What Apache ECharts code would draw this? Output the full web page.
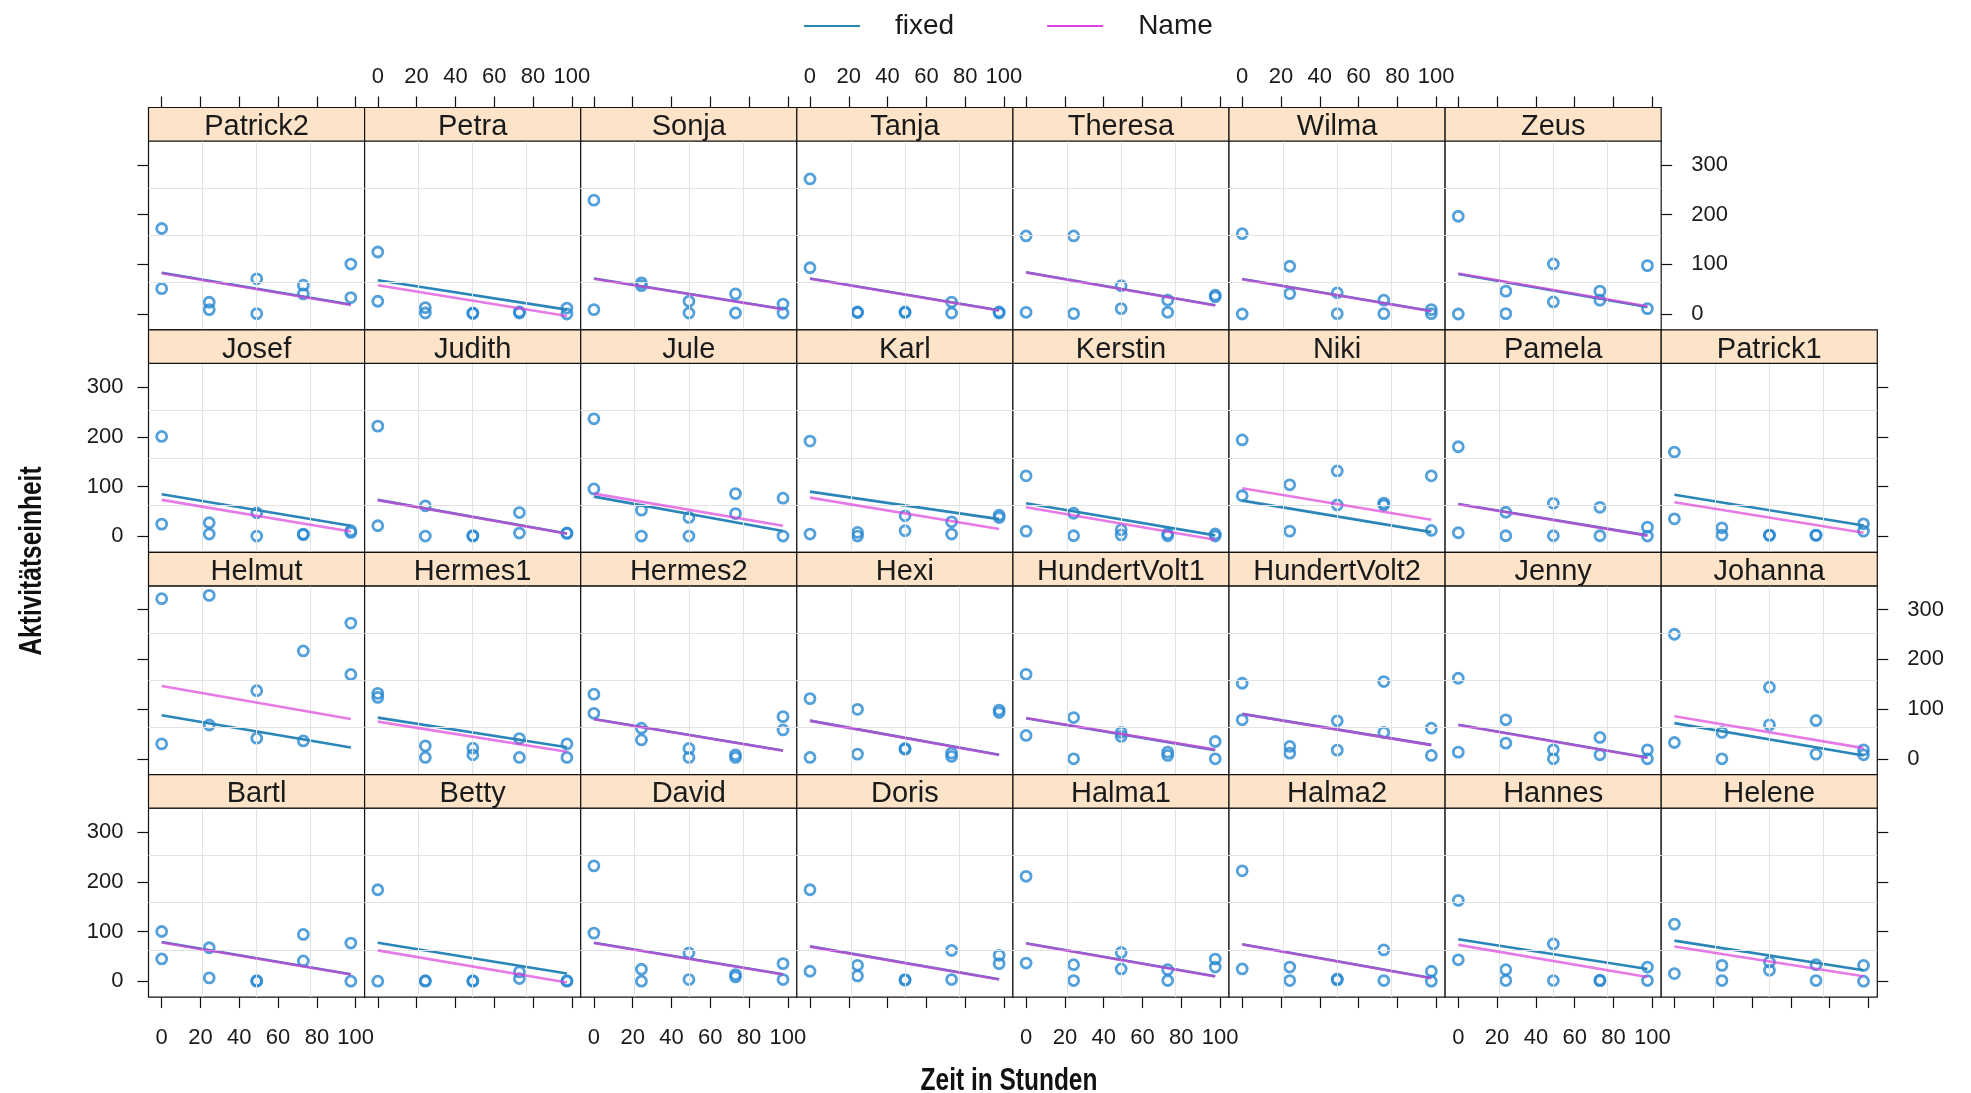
<!DOCTYPE html>
<html><head><meta charset="utf-8">
<script src="https://cdn.jsdelivr.net/npm/echarts@6/dist/echarts.min.js"></script>
<style>html,body{margin:0;padding:0;background:#fff}#c{width:1971px;height:1093px}</style>
</head><body><div id="c"></div>
<script>
// ---- data ----
const panelNames = ['Bartl','Betty','David','Doris','Halma1','Halma2','Hannes','Helene',
  'Helmut','Hermes1','Hermes2','Hexi','HundertVolt1','HundertVolt2','Jenny','Johanna',
  'Josef','Judith','Jule','Karl','Kerstin','Niki','Pamela','Patrick1',
  'Patrick2','Petra','Sonja','Tanja','Theresa','Wilma','Zeus'];
const pointTimes = [0, 24.5, 49, 73, 97.5];
const lineTimes = [0, 97.5];
const obsHigh = [
  [100,67.3,0,94,76.7],[184,0,0,18.7,0],[232,24,56.7,13.3,35.3],[184,32,3.3,62,52],
  [211,33.2,57.7,23.2,44.5],[222,28.5,4.6,63,20],[162.6,23.2,75,2,28.5],[114.8,31.8,38.5,33.2,31.8],
  [322,328.7,137,217,273],[131.6,26,21.4,40.7,30],[130,61.5,20.7,8,84.8],[121,99.5,20.7,11.4,98],
  [170,83,53,13.4,34.8],[152,24.8,76.4,155.4,61.6],[162,78.4,18,42.9,18],[250.5,53,144,77,18],
  [201,27.4,47.4,4.7,11.4],[221.8,61.5,0.7,48,6],[236.5,52.8,38,86,76.8],[191.7,8,41.4,29.4,42.7],
  [121.8,46.6,13.3,5.3,5],[194,103.8,131.7,67,121.8],[180.3,48.6,66.5,58.5,18.6],[169.7,17.3,2.7,2.7,25.3],
  [172,23.6,70.8,58,100.5],[124.7,12.8,2,4,12],[229,62.7,25.6,40.5,20],[271.7,4,4,24,4],
  [157,157,56.8,27.7,37.8],[161.5,96,42.6,27.7,8.8],[196.6,46,100.7,46,97.3]];
const obsLow = [
  [44.7,6.7,1,40.7,0],[0,1,1,5.3,1],[96.7,0,3.3,8.7,3.3],[20,10.7,2,3.3,35.3],
  [36.5,1.3,24.6,1.3,28.5],[24.6,1.3,2.5,1.3,0],[43,1.3,1.3,1,1.3],[15.3,1.3,22,1.3,0],
  [30,68,41.4,36,169.7],[123.6,2.7,8,2.7,2.7],[91.5,38,2.7,2.7,58],[2.7,9.4,19,4.7,93],
  [47,0,45,6.7,0],[78.4,11.4,17.4,53,6.7],[13.4,31.5,0,8,0],[32.8,0,68.3,9.4,8],
  [24.7,4.7,0.7,3.5,8],[21.4,0.7,1.5,6.7,7],[95.5,0.7,0.7,46,0.7],[4.7,0.7,11.4,4.7,38],
  [10.6,1.3,3,1.3,0.7],[81.8,10.6,63.2,63,12],[7.3,1.3,1.3,1.3,0.7],[35.3,2.7,2,2,10.6],
  [51,8.8,0.7,40.5,33],[25.6,2,1,2,0],[8.8,57,2,2,2],[93,3,3,2,2],
  [3.4,0.7,10.8,3.4,34.5],[0,41,0.7,0.7,0.7],[0,0.7,24.3,27.7,10.8]];
const fixedStart = [78.7,77.3,77.3,70,76.3,74.3,84.3,81.6, 87.5,82.8,80,76.8,81.7,90.4,68.3,71.7,
  84.8,73.5,80,90,66.5,71.9,65.2,83.8, 83,68,71.5,71.5,83.8,70.3,80.4];
const fixedEnd = [14,15.3,14,4,10,6.6,24.6,22, 22.7,23.4,16.7,8,17.4,28,2.7,6.7,
  21.4,6,11,34.7,2,8.6,2,22, 19,8.8,10,7.4,17.6,6,14.2];
const nameStart = [78,62,77,69.5,76,74,73,69.7, 146.3,74.8,79.5,76.3,82,90,68,85.7,
  73.5,73,86,78,58.5,97,64.7,68.5, 82,58,71,71,83.3,69.8,81.5];
const nameEnd = [13.5,-2.7,13.5,3.5,9.5,6,8.6,10, 80,14,16,7.5,18.5,27.5,2.2,21.4,
  10,5.5,21.4,14.7,-6.7,33.3,1.5,7.3, 18,-4,9.5,7,17,5.5,15.5];
const xTicks = [0,20,40,60,80,100];
const yTicks = [0,100,200,300];

// ---- layout ----
const L0=148.5, CW=216.1, T0=107.5, RH=222.4, SH=33.5;
const X_MIN=-6.8, X_MAX=104.6, Y_MIN=-32, Y_MAX=348;
const FONT = "'Liberation Sans', Arial, sans-serif";
const TXT = '#1a1a1a';
const gridX = [1,2,3].map(k => X_MIN + k*(X_MAX-X_MIN)/4);
const gridY = [1,2,3].map(k => Y_MIN + k*(Y_MAX-Y_MIN)/4);

const grids=[], xAxes=[], yAxes=[], series=[], graphics=[];
panelNames.forEach((name,i)=>{
  const lr=Math.floor(i/8), c=i%8, tr=3-lr;
  const left=L0+c*CW, rowTop=T0+tr*RH, plotTop=rowTop+SH, plotH=RH-SH;
  const lastInRow = (c===7) || (i===panelNames.length-1);
  const isTop = tr===0, isBottom = lr===0;
  grids.push({left:left, top:plotTop, width:CW, height:plotH, show:true, backgroundColor:'#fff',
    borderColor:'#111', borderWidth:1.2, containLabel:false});
  xAxes.push({gridIndex:i, type:'value', min:X_MIN, max:X_MAX, position:isTop?'top':'bottom',
    offset:isTop?SH:0,
    axisLine:{show:false, onZero:false}, splitLine:{show:false},
    axisTick:{show:isTop||isBottom, customValues:xTicks, length:11, lineStyle:{color:'#111', width:1.2}},
    axisLabel:{show:(isBottom&&c%2===0)||(isTop&&c%2===1), customValues:xTicks, margin:isTop?20:30,
      fontSize:22, color:TXT, fontFamily:FONT}});
  const yLeft = c===0;
  yAxes.push({gridIndex:i, type:'value', min:Y_MIN, max:Y_MAX, position:yLeft?'left':'right',
    axisLine:{show:false, onZero:false}, splitLine:{show:false},
    axisTick:{show:yLeft||lastInRow, customValues:yTicks, length:11, lineStyle:{color:'#111', width:1.2}},
    axisLabel:{show:(yLeft&&lr%2===0)||(lastInRow&&lr%2===1), customValues:yTicks, margin:yLeft?25:30,
      fontSize:22, color:TXT, fontFamily:FONT}});
  series.push({type:'line', xAxisIndex:i, yAxisIndex:i, data:[], silent:true, z:1, animation:false,
    markLine:{silent:true, symbol:['none','none'], label:{show:false}, animation:false,
      lineStyle:{color:'#e3e3e3', width:1, type:'solid'},
      data: gridX.map(v=>({xAxis:v})).concat(gridY.map(v=>({yAxis:v})))}});
  const pts=[];
  pointTimes.forEach((t,k)=>{ pts.push([t, obsHigh[i][k]]); pts.push([t, obsLow[i][k]]); });
  series.push({type:'scatter', xAxisIndex:i, yAxisIndex:i, data:pts, symbol:'circle', symbolSize:10,
    itemStyle:{color:'rgba(255,255,255,0)', borderColor:'#2888d2', borderWidth:2.8},
    z:3, silent:true, animation:false});
  series.push({type:'line', name:'fixed', xAxisIndex:i, yAxisIndex:i,
    data:[[lineTimes[0],fixedStart[i]],[lineTimes[1],fixedEnd[i]]], symbol:'none', silent:true,
    lineStyle:{color:'#2a86b8', width:2.6}, itemStyle:{color:'#2a86b8'}, z:4, animation:false});
  series.push({type:'line', name:'Name', xAxisIndex:i, yAxisIndex:i,
    data:[[lineTimes[0],nameStart[i]],[lineTimes[1],nameEnd[i]]], symbol:'none', silent:true,
    lineStyle:{color:'#dc42dc', width:2.6, opacity:0.7}, itemStyle:{color:'#dc42dc'}, z:5, animation:false});
  graphics.push({type:'rect', shape:{x:left, y:rowTop, width:CW, height:SH},
    style:{fill:'#fde3c8', stroke:'#111', lineWidth:1.2}, z:10, silent:true});
  graphics.push({type:'text', x:left+CW/2, y:rowTop+SH/2+3, z:11, silent:true,
    style:{text:name, font:"29px 'Liberation Sans', Arial, sans-serif", fill:TXT,
      textAlign:'center', textVerticalAlign:'middle', align:'center', verticalAlign:'middle'}});
});
graphics.push({type:'text', x:32, y:561, rotation:Math.PI/2, scaleX:0.79, silent:true,
  style:{text:'Aktivitätseinheit', font:"bold 31px 'Liberation Sans', Arial, sans-serif",
    fill:'#111', textAlign:'center', textVerticalAlign:'middle', align:'center', verticalAlign:'middle'}});
graphics.push({type:'text', x:1009, y:1081, scaleX:0.79, silent:true,
  style:{text:'Zeit in Stunden', font:"bold 31px 'Liberation Sans', Arial, sans-serif",
    fill:'#111', textAlign:'center', textVerticalAlign:'middle', align:'center', verticalAlign:'middle'}});

const chart = echarts.init(document.getElementById('c'));
chart.setOption({
  animation:false,
  backgroundColor:'#fff',
  legend:{data:[{name:'fixed', icon:'rect'},{name:'Name', icon:'rect'}], left:799, top:7,
    itemWidth:56, itemHeight:2, itemGap:93,
    selectedMode:false, textStyle:{fontSize:28, color:TXT, fontFamily:FONT, padding:[0,0,0,30]}},
  grid:grids, xAxis:xAxes, yAxis:yAxes, series:series, graphic:graphics
});
</script></body></html>
